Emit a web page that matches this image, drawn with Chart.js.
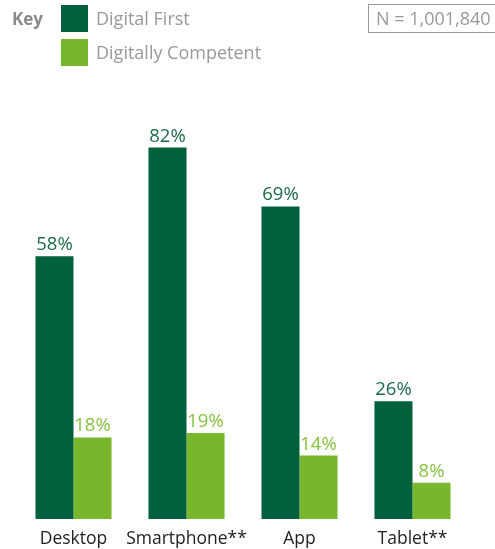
<!DOCTYPE html>
<html><head><meta charset="utf-8">
<script src="https://cdn.jsdelivr.net/npm/chart.js@4"></script>
<style>
html,body{margin:0;padding:0;background:#fff;width:495px;height:549px;overflow:hidden;font-family:"Open Sans",sans-serif;}
#wrap{position:absolute;left:0;top:0;width:495px;height:562px;}
.key{position:absolute;left:12px;top:7px;font-size:17px;font-weight:bold;color:#8a8a8a;}
.sw{position:absolute;left:61px;width:27px;height:27px;}
.lt{position:absolute;left:96px;font-size:18px;color:#999;}
.nbox{position:absolute;left:368px;top:4px;width:140px;height:29px;border:1px solid #999;box-sizing:border-box;font-size:18px;color:#999;padding-left:7px;line-height:26px;}
</style></head>
<body>
<div id="wrap"><canvas id="c" width="495" height="562"></canvas></div>
<div class="key">Key</div>
<div class="sw" style="top:5px;background:#03603c"></div>
<div class="sw" style="top:39px;background:#78b72b"></div>
<div class="lt" style="top:6px">Digital First</div>
<div class="lt" style="top:40px">Digitally Competent</div>
<div class="nbox">N = 1,001,840</div>
<script>
const categories = ["Desktop", "Smartphone**", "App", "Tablet**"];
const digitalFirst = [58, 82, 69, 26];
const digitallyCompetent = [18, 19, 14, 8];
const seriesNames = ["Digital First", "Digitally Competent"];
const darkGreen = "#03603c", lightGreen = "#78b72b";

const labelPlugin = {
  id: "vals",
  afterDatasetsDraw(chart) {
    const ctx = chart.ctx;
    ctx.save();
    ctx.font = '18.5px "Open Sans"';
    ctx.textAlign = "center";
    ctx.textBaseline = "bottom";
    chart.data.datasets.forEach((ds, i) => {
      const meta = chart.getDatasetMeta(i);
      ctx.fillStyle = i === 0 ? "#1d6b48" : "#86c03f";
      meta.data.forEach((bar, j) => {
        ctx.fillText(ds.data[j] + "%", bar.x, bar.y - 2);
      });
    });
    ctx.restore();
  }
};

new Chart(document.getElementById("c"), {
  type: "bar",
  data: {
    labels: categories,
    datasets: [
      { label: seriesNames[0], data: digitalFirst, backgroundColor: darkGreen },
      { label: seriesNames[1], data: digitallyCompetent, backgroundColor: lightGreen }
    ]
  },
  options: {
    responsive: false,
    animation: false,
    devicePixelRatio: 1,
    layout: { padding: { left: 17, right: 26, top: 66, bottom: 2 } },
    datasets: { bar: { barPercentage: 1, categoryPercentage: 0.673 } },
    plugins: { legend: { display: false }, tooltip: { enabled: false } },
    scales: {
      x: {
        grid: { display: false, drawTicks: false },
        border: { display: false },
        ticks: { color: "#222", font: { size: 17.5, family: "Open Sans" }, padding: 10, maxRotation: 0, minRotation: 0, autoSkip: false }
      },
      y: { display: false, min: 0, max: 100 }
    }
  },
  plugins: [labelPlugin]
});
</script>
</body></html>
